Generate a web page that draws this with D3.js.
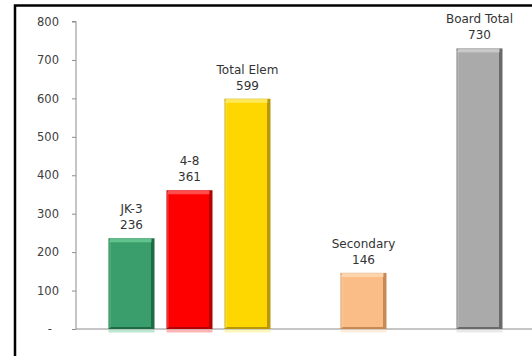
<!DOCTYPE html>
<html>
<head>
<meta charset="utf-8">
<script src="https://cdn.jsdelivr.net/npm/d3@7"></script>
<style>
  html, body { margin: 0; padding: 0; background: #fff; }
  svg { display: block; }
  text { font-family: "DejaVu Sans", sans-serif; }
</style>
</head>
<body>
<svg id="chart" width="532" height="356"></svg>
<script>
// ---- data ----
const categories = ["JK-3", "4-8", "Total Elem", "", "Secondary", "", "Board Total"];
const values = [236, 361, 599, null, 146, null, 730];
const barColors = ["#3a9e6c", "#ff0000", "#ffd700", null, "#fbbd88", null, "#aaaaaa"];
const edgeColors = ["#1e6a44", "#b30000", "#b8980a", null, "#c88a55", null, "#6a6a6a"];
const lightColors = ["#68c894", "#ff5a5a", "#ffec6a", null, "#ffd9b4", null, "#cfcfcf"];
const yTicks = [0, 100, 200, 300, 400, 500, 600, 700, 800];

// ---- layout ----
const svg = d3.select("#chart");
const axisLeft = 76, baseY = 329, topY = 21.5;

const x = d3.scaleBand()
  .domain(d3.range(categories.length))
  .range([102.5, 508.5])
  .paddingInner(0.207)
  .paddingOuter(0.1035);

const y = d3.scaleLinear().domain([0, 800]).range([baseY, topY]);

// frame (chart border, partially visible)
svg.append("path")
  .attr("d", `M15,356 V5.5 H532`)
  .attr("fill", "none")
  .attr("stroke", "#000")
  .attr("stroke-width", 2.5);

// y axis
const yAxis = d3.axisLeft(y)
  .tickValues(yTicks)
  .tickSize(4)
  .tickPadding(13)
  .tickFormat(d => d === 0 ? "-" : d3.format("d")(d));

const gy = svg.append("g").attr("transform", `translate(${axisLeft},0)`).call(yAxis);
gy.select(".domain").attr("stroke", "#8c8c8c").attr("d", `M-4,${topY}H0V${baseY}`);
gy.selectAll(".tick line").attr("stroke", "#8c8c8c");
gy.selectAll(".tick text")
  .attr("fill", "#404040")
  .attr("font-size", 11.5)
  .attr("font-family", "'DejaVu Sans', sans-serif")
  .attr("x", d => d === 0 ? -24 : -17);

// x baseline
svg.append("line")
  .attr("x1", axisLeft).attr("x2", 532)
  .attr("y1", baseY).attr("y2", baseY)
  .attr("stroke", "#8c8c8c");

// bars
const items = categories.map((c, i) => ({ i, c, v: values[i] })).filter(d => d.v != null);

const bars = svg.append("g").selectAll("g.bar").data(items).join("g").attr("class", "bar");

// faint reflection under baseline
bars.append("rect")
  .attr("x", d => x(d.i))
  .attr("y", baseY + 0.5)
  .attr("width", x.bandwidth())
  .attr("height", 3)
  .attr("fill", d => lightColors[d.i])
  .attr("opacity", 0.45);

// dark edge (base)
bars.append("rect")
  .attr("x", d => x(d.i))
  .attr("y", d => y(d.v))
  .attr("width", x.bandwidth())
  .attr("height", d => baseY - y(d.v))
  .attr("fill", d => edgeColors[d.i]);

// main body
bars.append("rect")
  .attr("x", d => x(d.i) + 1.5)
  .attr("y", d => y(d.v) + 1)
  .attr("width", x.bandwidth() - 5)
  .attr("height", d => baseY - y(d.v) - 3)
  .attr("fill", d => barColors[d.i]);

// top bevel highlight
bars.append("rect")
  .attr("x", d => x(d.i) + 1)
  .attr("y", d => y(d.v))
  .attr("width", x.bandwidth() - 4)
  .attr("height", 4)
  .attr("fill", d => lightColors[d.i])
  .attr("opacity", 0.85);

// left highlight
bars.append("rect")
  .attr("x", d => x(d.i))
  .attr("y", d => y(d.v) + 2)
  .attr("width", 2)
  .attr("height", d => baseY - y(d.v) - 3)
  .attr("fill", d => lightColors[d.i])
  .attr("opacity", 0.6);

// labels
const labels = svg.append("g").selectAll("g.lab").data(items).join("g").attr("class", "lab")
  .attr("font-size", 12)
  .attr("fill", "#333")
  .attr("text-anchor", "middle");

labels.append("text")
  .attr("x", d => x(d.i) + x.bandwidth() / 2)
  .attr("y", d => y(d.v) - 25)
  .text(d => d.c);

labels.append("text")
  .attr("x", d => x(d.i) + x.bandwidth() / 2)
  .attr("y", d => y(d.v) - 9)
  .text(d => d.v);
</script>
</body>
</html>
